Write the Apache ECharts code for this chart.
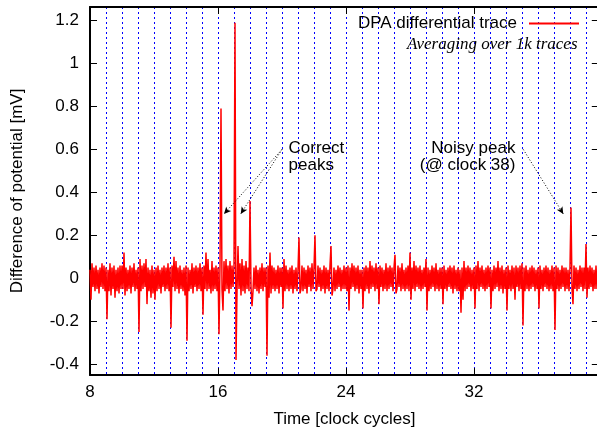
<!DOCTYPE html>
<html><head><meta charset="utf-8">
<script src="https://cdn.jsdelivr.net/npm/echarts@6/dist/echarts.min.js"></script>
<style>html,body{margin:0;padding:0;background:#fff}#c{width:597px;height:432px}</style>
</head><body><div id="c"></div>
<script>
// DPA differential trace, values in units of 0.01 mV, 16 samples per clock cycle, starting at clock 8
const trace_08_15 = [
 4,-10,7,-4,5,-6,6,-5,4,-7,5,-4,7,-5,6,-6,
 5,-19,4,-6,7,-8,5,-5,6,-9,4,-6,5,-7,6,-5,
 6,-5,12,-8,5,-6,4,-5,6,-7,5,-4,7,-6,4,-5,
 5,-25,9,-6,6,-5,7,-4,9,-12,5,-6,4,-9,6,-7,
 4,-10,5,-6,6,-5,4,-7,5,-4,6,-6,5,-5,7,-6,
 5,-23,6,-4,10,-6,8,-5,5,-7,6,-5,4,-6,5,-8,
 6,-29,5,-6,4,-5,7,-7,5,-4,6,-6,5,-5,7,-6,
 5,-17,6,-5,12,-6,9,-5,4,-7,8,-6,5,-5,6,-6
];
const trace_16_23 = [
 5,-26,6,79,-5,-15,8,-6,9,-5,6,-7,8,-5,6,-4,
 6,119,-38,-6,15,-5,7,-8,9,-6,6,-7,8,-5,5,-6,
 36,-4,-13,-6,5,-5,6,-6,4,-7,5,-5,7,-6,5,-4,
 5,-36,6,-9,12,-7,6,-5,5,-6,4,-5,6,-7,5,-4,
 5,-14,9,-6,6,-5,4,-6,5,-5,6,-7,4,-5,5,-6,
 4,19,-7,-5,6,-6,5,-5,4,-7,6,-4,5,-6,7,-5,
 5,20,-6,-5,6,-4,5,-6,4,-5,6,-7,5,-5,4,-6,
 6,15,-8,-5,5,-6,4,-5,6,-4,5,-6,4,-5,6,-5
];
const trace_24_31 = [
 5,-6,6,-15,5,-5,7,-4,6,-6,5,-5,6,-7,4,-5,
 4,-14,5,-6,6,-5,5,-7,8,-5,6,-4,5,-6,7,-5,
 5,-12,6,-4,5,-6,4,-5,7,-6,5,-5,6,-4,5,-6,
 5,11,-7,-5,6,-4,5,-6,7,-5,4,-6,5,-5,6,-6,
 12,-10,5,-5,8,-6,6,-4,5,-5,6,-6,4,-5,5,-4,
 9,-15,5,-6,4,-5,6,-4,5,-6,7,-5,4,-6,5,-5,
 5,-12,6,-5,4,-6,5,-4,6,-5,5,-7,6,-5,4,-6,
 5,-6,4,-16,5,-10,8,-6,5,-5,6,-4,5,-6,4,-5
];
const trace_32_39 = [
 5,-14,6,-5,8,-6,5,-4,6,-5,4,-6,5,-5,6,-4,
 5,-14,4,-6,6,-5,5,-4,8,-6,5,-5,6,-7,4,-5,
 5,-15,6,-5,4,-6,6,-5,5,-10,6,-4,5,-6,6,-5,
 7,-22,5,-6,6,-5,4,-6,5,-5,6,-4,5,-6,4,-5,
 5,-14,6,-5,4,-6,5,-4,6,-5,5,-6,4,-5,6,-6,
 5,-24,6,-5,5,-6,4,-5,6,-4,5,-6,5,-5,4,-6,
 5,33,-5,-12,6,-5,5,-6,4,-5,6,-4,5,-6,5,-5,
 16,-9,5,-5,6,-4,5,-6,4,-5,6,-5,5
];
const startClock = 8;
const samplesPerClock = 16;
const xTicks = [8, 16, 24, 32];
const yTicks = [-0.4, -0.2, 0, 0.2, 0.4, 0.6, 0.8, 1, 1.2];
const seriesName = 'DPA differential trace';
const subtitle = 'Averaging over 1k traces';
const xTitle = 'Time [clock cycles]';
const yTitle = 'Difference of potential [mV]';
const arrowFrom = [[20, 0.6], [20, 0.6], [35.08, 0.6]];
const arrowTo = [[16.375, 0.3], [17.42, 0.3], [37.58, 0.3]];
const noteTexts = ['Correct\npeaks', 'Noisy peak\n(@ clock 38)'];
const noteAnchors = [[20.41, 0.567], [34.59, 0.567]];
const noteAligns = ['left', 'right'];

const samples = [].concat(trace_08_15, trace_16_23, trace_24_31, trace_32_39);
const data = samples.map((v, i) => [startClock + i / samplesPerClock, v / 100]);

const FONT = '"Liberation Sans", Arial, Helvetica, sans-serif';
const chart = echarts.init(document.getElementById('c'), null, {renderer: 'canvas'});
const axisLineStyle = {color: '#000', width: 2};
const tickStyle = {color: '#000', width: 1};
chart.setOption({
  animation: false,
  backgroundColor: '#fff',
  grid: {left: 90, top: 7, right: -1.8, bottom: 57, outerBoundsMode: 'none'},
  legend: {
    data: [seriesName], right: 18, top: 15, align: 'right', padding: 0,
    itemWidth: 50, itemHeight: 2, icon: 'rect',
    textStyle: {fontSize: 17, fontFamily: FONT, color: '#000', padding: [0, 7, 0, 0]}
  },
  xAxis: [{
    type: 'value', position: 'bottom', min: 8, max: 39.8, interval: 8,
    axisLine: {show: true, onZero: false, lineStyle: axisLineStyle},
    axisTick: {show: true, inside: true, length: 7, customValues: xTicks, lineStyle: tickStyle},
    axisLabel: {show: true, customValues: xTicks, margin: 9, fontSize: 17, fontFamily: FONT, color: '#000'},
    splitLine: {show: false},
    name: xTitle, nameLocation: 'middle', nameGap: 36,
    nameTextStyle: {fontSize: 17, fontFamily: FONT, color: '#000'}
  }, {
    type: 'value', position: 'top', min: 8, max: 39.8, interval: 8,
    axisLine: {show: true, onZero: false, lineStyle: axisLineStyle},
    axisTick: {show: true, inside: true, length: 7, customValues: xTicks, lineStyle: tickStyle},
    axisLabel: {show: false}, splitLine: {show: false}
  }, {
    type: 'value', position: 'bottom', min: 8, max: 39.8, interval: 1,
    axisLine: {show: false}, axisTick: {show: false}, axisLabel: {show: false},
    splitLine: {show: true, lineStyle: {color: '#0000ff', width: 1, type: [2, 3]}}
  }],
  yAxis: [{
    type: 'value', position: 'left', min: -0.45, max: 1.263,
    axisLine: {show: true, onZero: false, lineStyle: axisLineStyle},
    axisTick: {show: true, inside: true, length: 7, customValues: yTicks, lineStyle: tickStyle},
    axisLabel: {show: true, customValues: yTicks, margin: 11, fontSize: 17, fontFamily: FONT, color: '#000'},
    splitLine: {show: false},
    name: yTitle, nameLocation: 'middle', nameGap: 64,
    nameTextStyle: {fontSize: 17, fontFamily: FONT, color: '#000'}
  }, {
    type: 'value', position: 'right', min: -0.45, max: 1.263,
    axisLine: {show: true, onZero: false, lineStyle: axisLineStyle},
    axisTick: {show: true, inside: true, length: 7, customValues: yTicks, lineStyle: tickStyle},
    axisLabel: {show: false}, splitLine: {show: false}
  }],
  series: [{
    name: seriesName, type: 'line', xAxisIndex: 0, yAxisIndex: 0,
    data: data, showSymbol: false, symbol: 'none', sampling: null,
    lineStyle: {color: '#ff0000', width: 1.5}, itemStyle: {color: '#ff0000'},
    emphasis: {disabled: true}, silent: true, clip: true, z: 3,
    markLine: {
      silent: true, animation: false, symbol: ['none', 'arrow'], symbolSize: [5, 7],
      label: {show: false},
      lineStyle: {color: '#000', width: 1, type: [1, 2]},
      data: arrowFrom.map((f, i) => [{coord: f}, {coord: arrowTo[i]}])
    }
  }]
});

const graphics = [{
  type: 'text', x: 577.5, y: 45,
  style: {text: subtitle, textAlign: 'right', textVerticalAlign: 'middle',
          font: 'italic 17px "Liberation Serif", "Times New Roman", serif', fill: '#000'}
}];
noteTexts.forEach((t, i) => {
  const p = chart.convertToPixel({gridIndex: 0}, noteAnchors[i]);
  graphics.push({
    type: 'text', x: p[0], y: p[1],
    style: {text: t, textAlign: noteAligns[i], textVerticalAlign: 'middle',
            font: '17px ' + FONT, lineHeight: 17, fill: '#000'}
  });
});
chart.setOption({graphic: graphics});
</script>
</body></html>
